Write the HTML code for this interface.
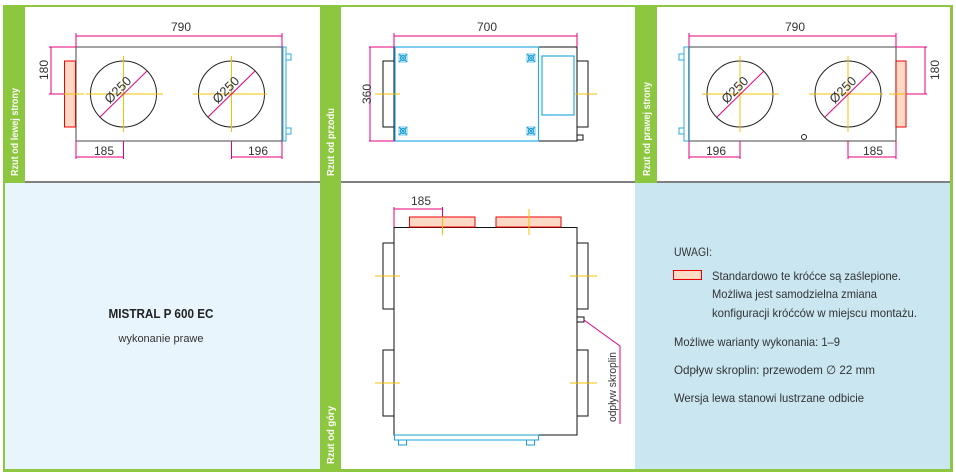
<!DOCTYPE html>
<html><head><meta charset="utf-8"><style>
html,body{margin:0;padding:0;background:#fff;}
svg{display:block;}
text{font-family:"Liberation Sans",sans-serif;}
</style></head><body>
<svg width="956" height="476" viewBox="0 0 956 476" xmlns="http://www.w3.org/2000/svg">
<rect width="956" height="476" fill="#fff"/>
<!-- backgrounds -->
<rect x="5" y="183" width="315" height="287" fill="#e8f5fc"/>
<rect x="635" y="183" width="315" height="287" fill="#c9e6f1"/>
<!-- green frame -->
<rect x="3" y="5" width="950" height="2" fill="#8dc63f"/>
<rect x="3" y="5" width="2" height="467" fill="#8dc63f"/>
<rect x="950" y="5" width="3" height="467" fill="#8dc63f"/>
<rect x="3" y="469" width="950" height="3" fill="#8dc63f"/>
<rect x="3" y="5" width="22" height="178" fill="#8dc63f"/>
<rect x="320" y="5" width="21" height="467" fill="#8dc63f"/>
<rect x="635" y="5" width="22" height="178" fill="#8dc63f"/>
<!-- black separators -->
<line x1="25" y1="182" x2="320" y2="182" stroke="#000" stroke-width="1"/>
<line x1="341" y1="182" x2="635" y2="182" stroke="#000" stroke-width="1"/>
<line x1="657" y1="182" x2="950" y2="182" stroke="#000" stroke-width="1"/>
<!-- strip labels -->
<g fill="#fff" font-weight="bold" font-size="10">
<text transform="translate(18,176) rotate(-90)" textLength="88" lengthAdjust="spacingAndGlyphs">Rzut od lewej strony</text>
<text transform="translate(334,176) rotate(-90)" textLength="68" lengthAdjust="spacingAndGlyphs">Rzut od przodu</text>
<text transform="translate(650,176) rotate(-90)" textLength="94" lengthAdjust="spacingAndGlyphs">Rzut od prawej strony</text>
<text transform="translate(334,464) rotate(-90)" textLength="58" lengthAdjust="spacingAndGlyphs">Rzut od góry</text>
</g>

<!-- PANEL 1 -->
<g fill="none">
<rect x="76" y="47" width="206" height="94" stroke="#666" stroke-width="1.2"/>
<rect x="64.5" y="61" width="11" height="66" fill="#fdd9c6" stroke="#e00" stroke-width="1"/>
<rect x="283" y="47" width="3" height="94" stroke="#29abe2"/>
<rect x="286" y="54" width="5" height="6" stroke="#29abe2"/>
<rect x="286" y="128" width="5" height="6" stroke="#29abe2"/>
<circle cx="123.5" cy="94" r="33" stroke="#222" stroke-width="1"/>
<circle cx="231.5" cy="94" r="33" stroke="#222" stroke-width="1"/>
<g stroke="#f5c000" stroke-width="1">
<line x1="64" y1="94" x2="84" y2="94"/><line x1="86" y1="94" x2="163" y2="94"/><line x1="123.5" y1="56" x2="123.5" y2="132"/>
<line x1="193" y1="94" x2="267" y2="94"/><line x1="231.5" y1="56" x2="231.5" y2="132"/>
</g>
<g stroke="#e6007e" stroke-width="1">
<line x1="100" y1="117" x2="147" y2="71"/><line x1="208" y1="117" x2="255" y2="71"/>
<line x1="76" y1="36" x2="282" y2="36"/><line x1="76" y1="33" x2="76" y2="47"/><line x1="282" y1="33" x2="282" y2="47"/>
<line x1="51" y1="47" x2="51" y2="94"/><line x1="49" y1="47" x2="76" y2="47"/><line x1="49" y1="94" x2="64" y2="94"/>
<line x1="76" y1="157" x2="123.5" y2="157"/><line x1="76" y1="141" x2="76" y2="159"/><line x1="123.5" y1="141" x2="123.5" y2="159"/>
<line x1="231.5" y1="157" x2="282" y2="157"/><line x1="231.5" y1="141" x2="231.5" y2="159"/><line x1="282" y1="141" x2="282" y2="159"/>
</g>
</g>
<g fill="#333" font-size="12">
<text x="181" y="31" text-anchor="middle">790</text>
<text transform="translate(48,70) rotate(-90)" text-anchor="middle">180</text>
<text x="104" y="155" text-anchor="middle">185</text>
<text x="258" y="155" text-anchor="middle">196</text>
<text transform="translate(121,93) rotate(-45)" font-size="13" text-anchor="middle">Ø250</text>
<text transform="translate(229,93) rotate(-45)" font-size="13" text-anchor="middle">Ø250</text>
</g>

<!-- PANEL 2 -->
<g fill="none">
<rect x="394" y="47" width="183" height="94" stroke="#111" stroke-width="1"/>
<rect x="383" y="61" width="11" height="66" stroke="#111"/>
<rect x="577" y="61" width="11" height="66" stroke="#111"/>
<rect x="577" y="135" width="6" height="5" stroke="#111"/>
<rect x="395" y="47" width="143.5" height="94" stroke="#29abe2" stroke-width="1.2"/>
<rect x="542" y="56" width="32" height="59" stroke="#29abe2" stroke-width="1.2"/>
<g stroke="#f5c000"><line x1="375" y1="94" x2="400" y2="94"/><line x1="575" y1="94" x2="597" y2="94"/></g>
<g stroke="#1aa0d8" stroke-width="1.2">
<g transform="translate(403,58)"><path d="M-4,-4L4,4M-4,4L4,-4"/><circle r="2.5"/><rect x="-4" y="-4" width="8" height="8" stroke-width="0.6"/></g>
<g transform="translate(531,58)"><path d="M-4,-4L4,4M-4,4L4,-4"/><circle r="2.5"/><rect x="-4" y="-4" width="8" height="8" stroke-width="0.6"/></g>
<g transform="translate(403,131)"><path d="M-4,-4L4,4M-4,4L4,-4"/><circle r="2.5"/><rect x="-4" y="-4" width="8" height="8" stroke-width="0.6"/></g>
<g transform="translate(531,131)"><path d="M-4,-4L4,4M-4,4L4,-4"/><circle r="2.5"/><rect x="-4" y="-4" width="8" height="8" stroke-width="0.6"/></g>
</g>
<g stroke="#e6007e">
<line x1="394" y1="36" x2="577" y2="36"/><line x1="394" y1="33" x2="394" y2="47"/><line x1="577" y1="33" x2="577" y2="47"/>
<line x1="370" y1="47" x2="370" y2="141"/><line x1="369" y1="47" x2="394" y2="47"/><line x1="369" y1="141" x2="394" y2="141"/>
</g>
</g>
<g fill="#333" font-size="12">
<text x="487" y="31" text-anchor="middle">700</text>
<text transform="translate(371,94) rotate(-90)" text-anchor="middle">360</text>
</g>

<!-- PANEL 3 -->
<g fill="none">
<rect x="689" y="47" width="207" height="94" stroke="#666" stroke-width="1.2"/>
<rect x="896" y="61" width="10" height="66" fill="#fdd9c6" stroke="#e00"/>
<rect x="684" y="47" width="4.5" height="94" stroke="#29abe2"/>
<rect x="679" y="54" width="5" height="6" stroke="#29abe2"/>
<rect x="679" y="128" width="5" height="6" stroke="#29abe2"/>
<circle cx="740" cy="94" r="33" stroke="#222"/>
<circle cx="848" cy="94" r="33" stroke="#222"/>
<circle cx="804" cy="137" r="2.5" stroke="#222"/>
<g stroke="#f5c000">
<line x1="702" y1="94" x2="779" y2="94"/><line x1="740" y1="56" x2="740" y2="132"/>
<line x1="809" y1="94" x2="883" y2="94"/><line x1="848" y1="56" x2="848" y2="132"/><line x1="889" y1="94" x2="906" y2="94"/>
</g>
<g stroke="#e6007e">
<line x1="717" y1="117" x2="764" y2="71"/><line x1="825" y1="117" x2="872" y2="71"/>
<line x1="689" y1="36" x2="896" y2="36"/><line x1="689" y1="33" x2="689" y2="47"/><line x1="896" y1="33" x2="896" y2="47"/>
<line x1="925" y1="47" x2="925" y2="94"/><line x1="896" y1="47" x2="927" y2="47"/><line x1="906" y1="94" x2="927" y2="94"/>
<line x1="689" y1="157" x2="740" y2="157"/><line x1="689" y1="141" x2="689" y2="159"/><line x1="740" y1="141" x2="740" y2="159"/>
<line x1="848" y1="157" x2="896" y2="157"/><line x1="848" y1="141" x2="848" y2="159"/><line x1="896" y1="141" x2="896" y2="159"/>
</g>
</g>
<g fill="#333" font-size="12">
<text x="795" y="31" text-anchor="middle">790</text>
<text transform="translate(939,70) rotate(-90)" text-anchor="middle">180</text>
<text x="716" y="155" text-anchor="middle">196</text>
<text x="873" y="155" text-anchor="middle">185</text>
<text transform="translate(738,93) rotate(-45)" font-size="13" text-anchor="middle">Ø250</text>
<text transform="translate(846,93) rotate(-45)" font-size="13" text-anchor="middle">Ø250</text>
</g>

<!-- PANEL bottom middle -->
<g fill="none">
<rect x="394" y="227.5" width="183" height="207.5" stroke="#111"/>
<rect x="409.5" y="217" width="65.5" height="10" fill="#fdd9c6" stroke="#e00"/>
<rect x="496" y="217" width="65" height="10" fill="#fdd9c6" stroke="#e00"/>
<rect x="383" y="243" width="11" height="66" stroke="#111"/>
<rect x="383" y="350" width="11" height="66" stroke="#111"/>
<rect x="577" y="243" width="11" height="66" stroke="#111"/>
<rect x="577" y="350" width="11" height="66" stroke="#111"/>
<rect x="577" y="317" width="7" height="5" stroke="#111"/>
<rect x="394.5" y="435" width="144" height="5" stroke="#1aa0d8"/>
<rect x="398.5" y="440" width="8" height="5" stroke="#1aa0d8"/>
<rect x="526.5" y="440" width="8" height="5" stroke="#1aa0d8"/>
<g stroke="#f5c000">
<line x1="442.5" y1="209" x2="442.5" y2="235"/><line x1="529" y1="209" x2="529" y2="235"/>
<line x1="375" y1="276" x2="400" y2="276"/><line x1="570" y1="276" x2="597" y2="276"/>
<line x1="375" y1="383" x2="400" y2="383"/><line x1="570" y1="383" x2="597" y2="383"/>
</g>
<g stroke="#e6007e">
<line x1="394" y1="209" x2="442.5" y2="209"/><line x1="394" y1="207" x2="394" y2="227"/><line x1="442.5" y1="207" x2="442.5" y2="217"/>
<polyline points="584,320 620,346 620,424"/>
</g>
</g>
<g fill="#333" font-size="12">
<text x="421" y="205" text-anchor="middle">185</text>
<text transform="translate(616,422) rotate(-90)" font-size="11" textLength="70" lengthAdjust="spacingAndGlyphs">odpływ skroplin</text>
</g>

<!-- bottom left text -->
<text x="161" y="318" text-anchor="middle" font-size="13" font-weight="bold" fill="#222" textLength="105" lengthAdjust="spacingAndGlyphs">MISTRAL P 600 EC</text>
<text x="161" y="342" text-anchor="middle" font-size="11" fill="#333" textLength="85" lengthAdjust="spacingAndGlyphs">wykonanie prawe</text>

<!-- notes -->
<g fill="#333" font-size="12">
<text x="674" y="256" textLength="38" lengthAdjust="spacingAndGlyphs">UWAGI:</text>
<rect x="673.5" y="270.5" width="28" height="9" fill="#fdd9c6" stroke="#e00"/>
<text x="712" y="280" textLength="189" lengthAdjust="spacingAndGlyphs">Standardowo te króćce są zaślepione.</text>
<text x="712" y="298" textLength="165" lengthAdjust="spacingAndGlyphs">Możliwa jest samodzielna zmiana</text>
<text x="712" y="317" textLength="205" lengthAdjust="spacingAndGlyphs">konfiguracji króćców w miejscu montażu.</text>
<text x="674" y="346" textLength="166" lengthAdjust="spacingAndGlyphs">Możliwe warianty wykonania: 1–9</text>
<text x="674" y="374" textLength="201" lengthAdjust="spacingAndGlyphs">Odpływ skroplin: przewodem ∅ 22 mm</text>
<text x="674" y="402" textLength="190" lengthAdjust="spacingAndGlyphs">Wersja lewa stanowi lustrzane odbicie</text>
</g>
</svg>
</body></html>
